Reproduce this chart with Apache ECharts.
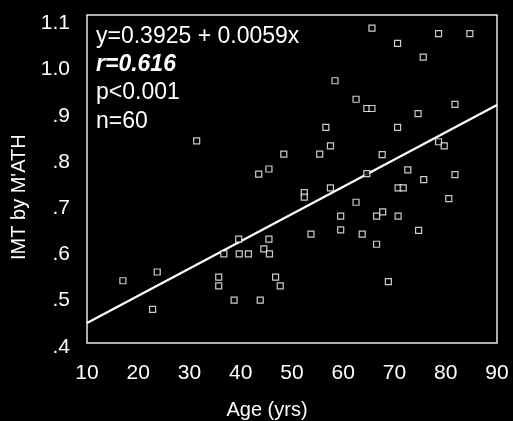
<!DOCTYPE html>
<html>
<head>
<meta charset="utf-8">
<script src="https://cdn.jsdelivr.net/npm/echarts@6/dist/echarts.min.js"></script>
<style>html,body{margin:0;padding:0;background:#000;}#c{width:513px;height:421px;}</style>
</head>
<body>
<div id="c"></div>
<script>
// Age (yrs)
var ages = [65.6,78.6,84.7,70.6,75.6,58.4,62.5,64.6,65.6,81.8,74.6,56.6,70.6,57.5,78.6,79.7,48.4,55.4,67.6,43.5,45.5,64.6,72.6,75.7,81.8,52.4,52.4,57.5,70.7,71.7,80.6,62.5,59.5,66.5,67.7,70.7,59.5,53.7,63.7,74.7,66.5,45.5,44.5,45.6,41.5,46.8,47.7,43.8,68.8,31.4,17.0,23.7,22.8,35.7,35.7,36.7,39.6,39.7,38.7];
// IMT by M'ATH
var imt = [1.090,1.078,1.078,1.057,1.027,0.976,0.936,0.916,0.916,0.925,0.905,0.875,0.875,0.835,0.844,0.835,0.817,0.817,0.816,0.774,0.785,0.775,0.783,0.762,0.773,0.734,0.724,0.744,0.744,0.744,0.721,0.713,0.683,0.683,0.692,0.683,0.653,0.644,0.644,0.652,0.622,0.633,0.612,0.601,0.601,0.551,0.532,0.501,0.541,0.846,0.543,0.562,0.481,0.551,0.532,0.601,0.633,0.601,0.501];
// regression line y=0.3925+0.0059x endpoints
var fitX = [10, 90];
var fitY = [0.4515, 0.9235];
var xTicks = ['10','20','30','40','50','60','70','80','90'];
var yTicks = ['.4','.5','.6','.7','.8','.9','1.0','1.1'];
var statLines = ['y=0.3925 + 0.0059x', 'r=0.616', 'p<0.001', 'n=60'];

var pts = ages.map(function(a,i){return [a, imt[i]];});
var fit = fitX.map(function(x,i){return [x, fitY[i]];});

var chart = echarts.init(document.getElementById('c'));
var font = 'Liberation Sans, Arial, sans-serif';
chart.setOption({
  backgroundColor: '#000',
  animation: false,
  grid: {left: 87, right: 16, top: 23.5, height: 323.3, containLabel: false},
  xAxis: {
    type: 'value', min: 10, max: 90, interval: 10,
    axisLine: {show: false}, axisTick: {show: false}, splitLine: {show: false},
    axisLabel: {color: '#fff', fontSize: 21, fontFamily: font, margin: 16,
      formatter: function(v){ return xTicks[Math.round((v-10)/10)]; }}
  },
  yAxis: {
    type: 'value', min: 0.4, max: 1.1, interval: 0.1,
    name: "IMT by M'ATH", nameLocation: 'middle', nameGap: 58, nameRotate: 90,
    nameTextStyle: {color: '#fff', fontSize: 20, fontFamily: font, padding: [0, 24, 0, 0]},
    axisLine: {show: false}, axisTick: {show: false}, splitLine: {show: false},
    axisLabel: {color: '#fff', fontSize: 21, fontFamily: font, margin: 17,
      formatter: function(v){ return yTicks[Math.round((v-0.4)*10)]; }}
  },
  graphic: [
    {type: 'rect', shape: {x: 87, y: 15, width: 410, height: 328}, style: {fill: null, stroke: '#e8e8e8', lineWidth: 1.5}, z: 0},
    {type: 'text', x: 96, y: 37, style: {text: statLines[0], fill: '#fff', font: '23px ' + font, verticalAlign: 'middle'}},
    {type: 'text', x: 96, y: 65, style: {text: statLines[1], fill: '#fff', font: 'italic bold 23px ' + font, verticalAlign: 'middle'}},
    {type: 'text', x: 96, y: 93, style: {text: statLines[2], fill: '#fff', font: '23px ' + font, verticalAlign: 'middle'}},
    {type: 'text', x: 96, y: 122, style: {text: statLines[3], fill: '#fff', font: '23px ' + font, verticalAlign: 'middle'}},
    {type: 'text', x: 267, y: 410, style: {text: 'Age (yrs)', fill: '#fff', font: '20px ' + font, align: 'center', verticalAlign: 'middle'}}
  ],
  series: [
    {type: 'line', data: fit, symbol: 'none', lineStyle: {color: '#fff', width: 2.2}, z: 2},
    {type: 'scatter', data: pts, symbol: 'rect', symbolSize: 6,
      itemStyle: {color: '#000', borderColor: '#fff', borderWidth: 1.2}, z: 3}
  ]
});
</script>
</body>
</html>
